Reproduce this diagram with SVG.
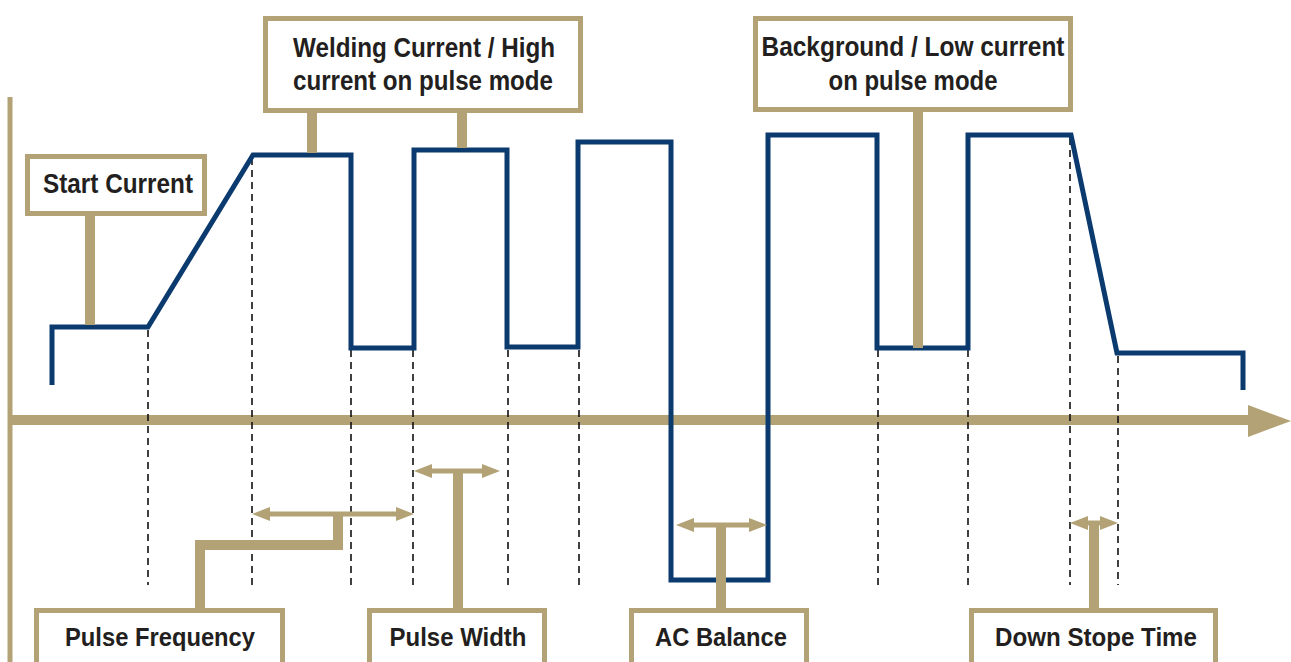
<svg xmlns="http://www.w3.org/2000/svg" width="1291" height="662" viewBox="0 0 1291 662">
<defs>
<style>
.box{fill:#fff;stroke:#b2a275;stroke-width:5}
.stem{fill:none;stroke:#b2a275;stroke-width:10}
.dbl{fill:none;stroke:#b2a275;stroke-width:5;marker-start:url(#ah);marker-end:url(#ah)}
.dash{fill:none;stroke:#111;stroke-width:1.6;stroke-dasharray:7 5}
.wave{fill:none;stroke:#0b3a6f;stroke-width:5;stroke-linejoin:miter}
.lbl{font-family:"Liberation Sans Narrow","Arial Narrow","Liberation Sans",Arial,sans-serif;font-weight:bold;fill:#231f20;text-anchor:middle}
.t27{font-size:28px}
.t25{font-size:26px}
</style>
<marker id="ah" markerUnits="userSpaceOnUse" markerWidth="18" markerHeight="14" refX="0" refY="7" orient="auto-start-reverse" overflow="visible">
<path d="M0,0 L18,7 L0,14 z" fill="#b2a275"/>
</marker>
</defs>
<rect width="1291" height="662" fill="#fff"/>

<g id="axes">
<line x1="10" y1="97" x2="10" y2="662" stroke="#b2a275" stroke-width="5"/>
<line x1="8" y1="420" x2="1252" y2="420" stroke="#b2a275" stroke-width="10"/>
<polygon points="1248,405 1291,421 1248,437" fill="#b2a275"/>
</g>

<g id="guides">
<line class="dash" x1="148" y1="330" x2="148" y2="585"/>
<line class="dash" x1="252" y1="158" x2="252" y2="585"/>
<line class="dash" x1="351" y1="350" x2="351" y2="585"/>
<line class="dash" x1="413" y1="350" x2="413" y2="585"/>
<line class="dash" x1="508" y1="350" x2="508" y2="585"/>
<line class="dash" x1="579" y1="350" x2="579" y2="585"/>
<line class="dash" x1="878" y1="350" x2="878" y2="585"/>
<line class="dash" x1="968" y1="350" x2="968" y2="585"/>
<line class="dash" x1="1070" y1="138" x2="1070" y2="585"/>
<line class="dash" x1="1118" y1="356" x2="1118" y2="585"/>
</g>

<g id="waveform">
<path class="wave" d="M52,385 V327 H148 L253,155 H351 V348 H414 V150 H507 V347 H578 V142 H671 V580 H768 V135 H877 V348 H968 V135 H1071 L1117,353 H1243 V390"/>
</g>

<g id="connectors">
<path class="stem" d="M90,216 V325"/>
<path class="stem" d="M312,113 V153"/>
<path class="stem" d="M462,113 V148"/>
<path class="stem" d="M918,112 V348"/>
<path class="dbl" d="M270,514 H396"/>
<path class="stem" d="M338,514 V545 H200 V608"/>
<path class="dbl" d="M432,471 H482"/>
<path class="stem" d="M458,471 V608"/>
<path class="dbl" d="M694,525 H749"/>
<path class="stem" d="M721,525 V608"/>
<path class="dbl" d="M1088,523 H1100"/>
<path class="stem" d="M1094,523 V608"/>
</g>

<g id="start-current">
<rect class="box" x="27.5" y="156.5" width="177" height="57"/>
<text class="lbl t27" x="118" y="193" textLength="150" lengthAdjust="spacingAndGlyphs">Start Current</text>
</g>

<g id="welding-current">
<rect class="box" x="265.5" y="18.5" width="315" height="92"/>
<text class="lbl t27" x="424" y="57" textLength="262" lengthAdjust="spacingAndGlyphs">Welding Current / High</text>
<text class="lbl t27" x="423" y="90" textLength="260" lengthAdjust="spacingAndGlyphs">current on pulse mode</text>
</g>

<g id="background-current">
<rect class="box" x="755.5" y="18.5" width="315" height="91"/>
<text class="lbl t27" x="913" y="56" textLength="303" lengthAdjust="spacingAndGlyphs">Background / Low current</text>
<text class="lbl t27" x="913" y="90" textLength="169" lengthAdjust="spacingAndGlyphs">on pulse mode</text>
</g>

<g id="pulse-frequency">
<rect class="box" x="36.5" y="610.5" width="246" height="70"/>
<text class="lbl t25" x="160" y="646" textLength="190" lengthAdjust="spacingAndGlyphs">Pulse Frequency</text>
</g>

<g id="pulse-width">
<rect class="box" x="369.5" y="610.5" width="175" height="70"/>
<text class="lbl t25" x="458" y="646" textLength="137" lengthAdjust="spacingAndGlyphs">Pulse Width</text>
</g>

<g id="ac-balance">
<rect class="box" x="631.5" y="610.5" width="175" height="70"/>
<text class="lbl t25" x="721" y="646" textLength="132" lengthAdjust="spacingAndGlyphs">AC Balance</text>
</g>

<g id="down-slope-time">
<rect class="box" x="971.5" y="610.5" width="244" height="70"/>
<text class="lbl t25" x="1096" y="646" textLength="202" lengthAdjust="spacingAndGlyphs">Down Stope Time</text>
</g>
</svg>
